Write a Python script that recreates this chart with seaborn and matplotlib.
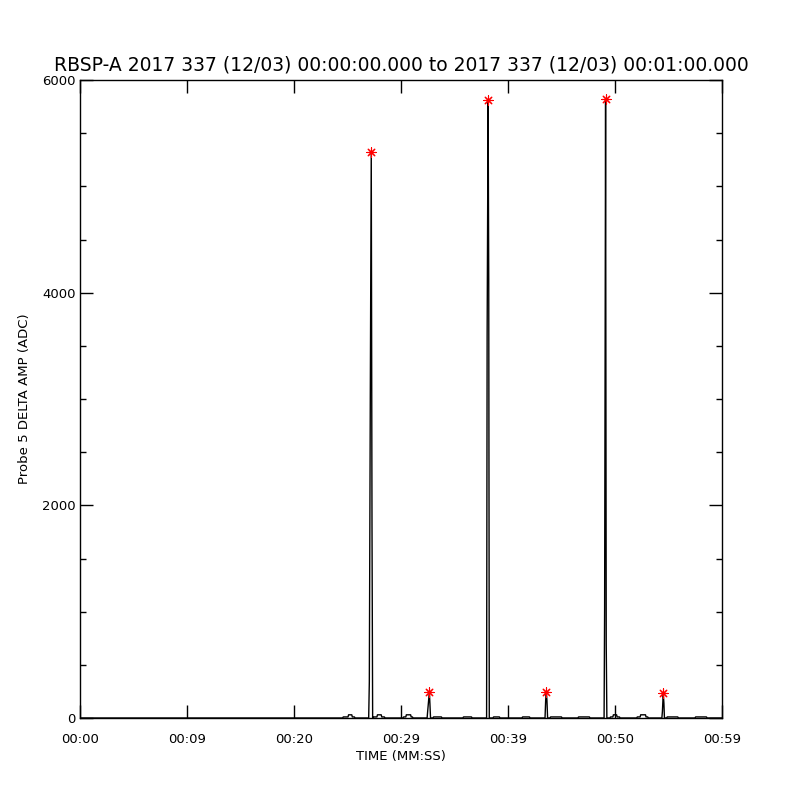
import matplotlib
matplotlib.use("Agg")
import matplotlib.pyplot as plt
import seaborn as sns
import pandas as pd
from matplotlib.ticker import MultipleLocator

title = "RBSP-A 2017 337 (12/03) 00:00:00.000 to 2017 337 (12/03) 00:01:00.000"
x_ticks = [0, 10, 20, 30, 40, 50, 60]
x_tick_labels = ["00:00", "00:09", "00:20", "00:29", "00:39", "00:50", "00:59"]
y_ticks = [0, 2000, 4000, 6000]

# waveform samples: time in seconds, amplitude in ADC
time_s = [
    0.0, 24.55,
    24.60, 25.05, 25.10, 25.40, 25.45, 25.65, 25.70,
    26.98, 27.04, 27.13, 27.22, 27.29, 27.35,
    27.40, 27.45, 27.75, 27.80, 28.15, 28.20, 28.45, 28.50,
    30.19, 30.24, 30.45, 30.50, 30.90, 30.95, 31.07, 31.12,
    32.44, 32.49, 32.65, 32.70, 32.76,
    32.99, 33.04, 33.78, 33.83,
    35.79, 35.84, 36.59, 36.64,
    38.00, 38.05, 38.14, 38.20, 38.25,
    38.60, 38.65, 39.20, 39.25,
    41.31, 41.36, 42.01, 42.06,
    43.46, 43.52, 43.58, 43.64, 43.70,
    43.93, 43.98, 45.00, 45.05,
    46.54, 46.59, 47.61, 47.66,
    48.98, 49.03, 49.08, 49.12, 49.18, 49.24,
    49.53, 49.58, 49.80, 49.85, 50.15, 50.20, 50.42, 50.47,
    52.03, 52.08, 52.35, 52.40, 52.85, 52.90, 53.06, 53.11,
    54.38, 54.43, 54.51, 54.57, 54.62,
    54.83, 54.88, 55.87, 55.92,
    57.48, 57.53, 58.55, 58.60, 60.0,
]
amp_adc = [
    0, 0,
    10, 10, 30, 30, 10, 10, 0,
    0, 340, 3000, 5320, 1800, 0,
    0, 10, 10, 30, 30, 10, 10, 0,
    0, 10, 10, 30, 30, 10, 10, 0,
    0, 60, 245, 140, 0,
    0, 10, 10, 0,
    0, 10, 10, 0,
    0, 3600, 5808, 4120, 0,
    0, 10, 10, 0,
    0, 10, 10, 0,
    0, 165, 245, 165, 0,
    0, 10, 10, 0,
    0, 10, 10, 0,
    0, 1030, 3620, 5819, 700, 0,
    0, 10, 10, 30, 30, 10, 10, 0,
    0, 10, 10, 30, 30, 10, 10, 0,
    0, 60, 232, 140, 0,
    0, 10, 10, 0,
    0, 10, 10, 0, 0,
]

# detected peaks (red asterisks)
peak_t = [27.22, 32.65, 38.14, 43.58, 49.12, 54.51]
peak_amp = [5320, 245, 5808, 245, 5819, 232]

sns.set_style("ticks")
plt.rcParams["font.family"] = ["DejaVu Sans"]
plt.rcParams["text.color"] = "black"
plt.rcParams["axes.labelcolor"] = "black"

wave = pd.DataFrame({"t": time_s, "amp": amp_adc})
peaks = pd.DataFrame({"t": peak_t, "amp": peak_amp})

fig = plt.figure(figsize=(8, 8), dpi=100)
ax = fig.add_axes([0.1, 0.1025, 0.8025, 0.7975])

sns.lineplot(data=wave, x="t", y="amp", color="black", linewidth=1.0,
             estimator=None, sort=False, ax=ax)
sns.scatterplot(data=peaks, x="t", y="amp", marker=(8, 2, 0), s=45,
                color="red", linewidth=0.8, ax=ax, zorder=5)

ax.set_xlim(0, 60)
ax.set_ylim(0, 6000)
ax.set_xticks(x_ticks)
ax.set_xticklabels(x_tick_labels)
ax.set_yticks(y_ticks)
ax.yaxis.set_minor_locator(MultipleLocator(500))

for side in ["top", "bottom", "left", "right"]:
    ax.spines[side].set_visible(True)
    ax.spines[side].set_color("black")
    ax.spines[side].set_linewidth(1.0)

ax.tick_params(axis="x", which="major", direction="in", length=9.5, width=1,
               top=True, bottom=True, labelsize=9.5, pad=11, colors="black")
ax.tick_params(axis="y", which="major", direction="in", length=9.5, width=1,
               left=True, right=True, labelsize=9.5, pad=3, colors="black")
ax.tick_params(axis="y", which="minor", direction="in", length=4.5, width=1,
               left=True, right=True, colors="black")

ax.set_xlabel("TIME (MM:SS)", fontsize=9.5, labelpad=3)
ax.set_ylabel("Probe 5 DELTA AMP (ADC)", fontsize=9.5, labelpad=8)
ax.set_title(title, fontsize=13.5, pad=7, color="black")

fig.savefig("out.png", dpi=100, facecolor="white")
